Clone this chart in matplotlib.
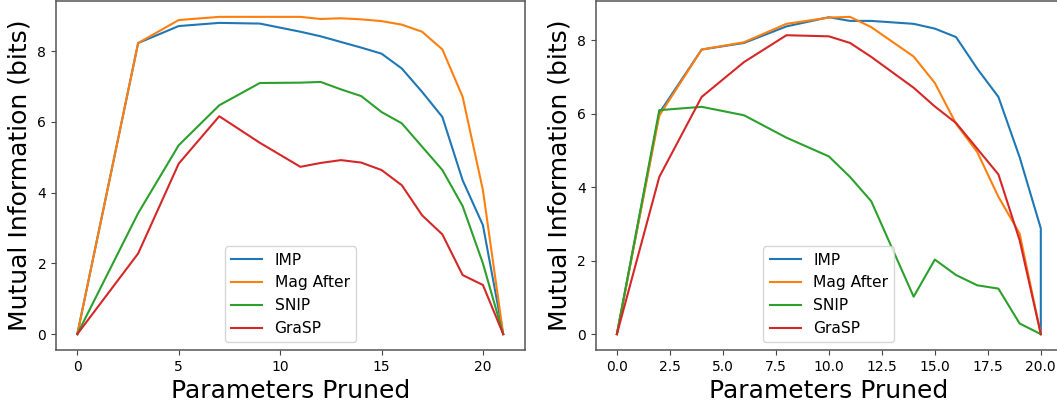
import matplotlib
matplotlib.use("Agg")
import matplotlib.pyplot as plt

labels = ["IMP", "Mag After", "SNIP", "GraSP"]
colors = ["#1f77b4", "#ff7f0e", "#2ca02c", "#d62728"]

# Left panel
x_left = [0, 3, 5, 7, 9, 11, 12, 13, 14, 15, 16, 17, 18, 19, 20, 21]
imp_left = [0, 8.23, 8.71, 8.80, 8.78, 8.55, 8.42, 8.26, 8.10, 7.93, 7.51, 6.85, 6.14, 4.35, 3.08, 0]
mag_left = [0, 8.23, 8.88, 8.97, 8.97, 8.97, 8.91, 8.93, 8.90, 8.85, 8.75, 8.55, 8.05, 6.71, 4.07, 0]
snip_left = [0, 3.42, 5.34, 6.47, 7.10, 7.11, 7.13, 6.92, 6.73, 6.28, 5.96, 5.30, 4.64, 3.62, 2.00, 0]
grasp_left = [0, 2.28, 4.82, 6.16, 5.41, 4.73, 4.84, 4.92, 4.85, 4.64, 4.21, 3.36, 2.82, 1.67, 1.39, 0]

# Right panel
x_right = [0, 2, 4, 6, 8, 10, 11, 12, 14, 15, 16, 17, 18, 19, 20, 20]
imp_right = [0, 6.02, 7.75, 7.93, 8.38, 8.63, 8.53, 8.53, 8.45, 8.32, 8.09, 7.23, 6.46, 4.82, 2.88, 0]
mag_right = [0, 5.95, 7.75, 7.95, 8.45, 8.62, 8.64, 8.36, 7.56, 6.84, 5.73, 4.96, 3.74, 2.74, 0, 0]
snip_right = [0, 6.10, 6.19, 5.96, 5.35, 4.84, 4.28, 3.62, 1.02, 2.03, 1.61, 1.33, 1.24, 0.29, 0, 0]
grasp_right = [0, 4.28, 6.46, 7.41, 8.14, 8.11, 7.93, 7.55, 6.71, 6.20, 5.75, 5.05, 4.35, 2.56, 0, 0]

W, H = 1057, 403
fig = plt.figure(figsize=(W / 100, H / 100), dpi=100)
ax1 = fig.add_axes([56 / W, 1 - 350 / H, (524.5 - 56) / W, (350 - 1) / H])
ax2 = fig.add_axes([595.7 / W, 1 - 350 / H, (1062 - 595.7) / W, (350 - 1) / H])

for ax, xs, series in [
    (ax1, x_left, [imp_left, mag_left, snip_left, grasp_left]),
    (ax2, x_right, [imp_right, mag_right, snip_right, grasp_right]),
]:
    for ys, lab, c in zip(series, labels, colors):
        ax.plot(xs, ys, label=lab, color=c, linewidth=1.5)
    ax.set_xlabel("Parameters Pruned", fontsize=18)
    ax.set_ylabel("Mutual Information (bits)", fontsize=18)
    ax.tick_params(labelsize=10, color="#444444")
    for sp in ax.spines.values():
        sp.set_color("#555555")
        sp.set_linewidth(1.1)
    ax.legend(loc="lower center", fontsize=11.2)

ax1.set_xticks([0, 5, 10, 15, 20])
ax1.set_yticks([0, 2, 4, 6, 8])
ax2.set_xticks([0, 2.5, 5, 7.5, 10, 12.5, 15, 17.5, 20])
ax2.set_yticks([0, 2, 4, 6, 8])

fig.savefig("out.png", dpi=100)
